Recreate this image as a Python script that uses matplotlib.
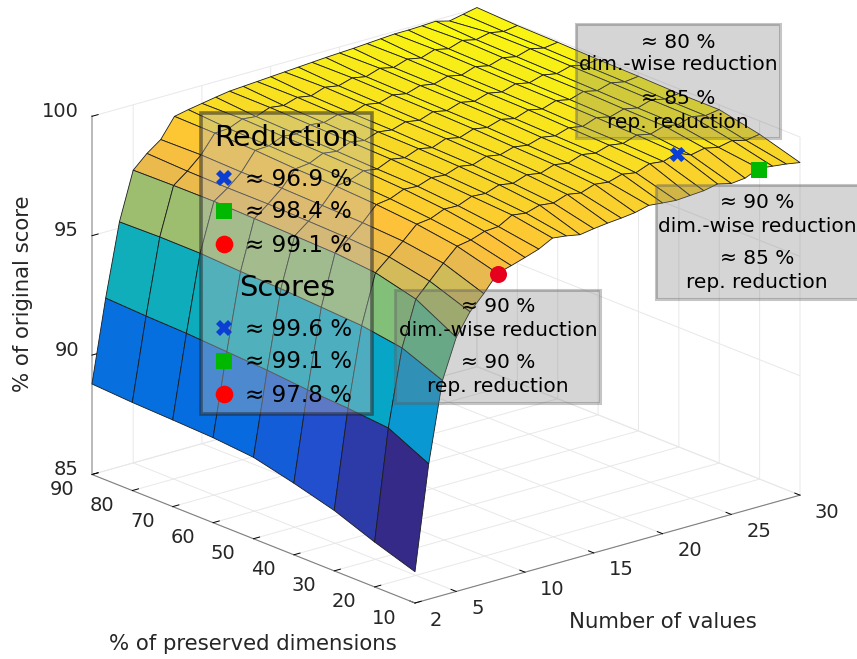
"""
Score surface over number of values and preserved dimensions
"""
import numpy as np
import matplotlib
matplotlib.use('Agg')
import matplotlib.pyplot as plt
from matplotlib.colors import LinearSegmentedColormap
from matplotlib.patches import Rectangle
from mpl_toolkits.mplot3d import proj3d

W, H = 857, 659

num_values = list(range(2, 31))
preserved_dims = [10, 20, 30, 40, 50, 60, 70, 80, 90]

# one row per number of values, columns are preserved_dims
score_rows = [
    [86.31, 86.88, 87.53, 88.00, 88.41, 88.56, 88.63, 88.69, 88.79],
    [90.67, 91.50, 91.65, 91.75, 91.90, 92.00, 92.10, 92.15, 92.23],
    [94.00, 94.69, 94.95, 95.05, 95.15, 95.20, 95.29, 95.30, 95.26],
    [95.64, 96.57, 97.00, 97.15, 97.20, 97.25, 97.30, 97.29, 97.26],
    [96.55, 97.16, 97.50, 97.60, 97.65, 97.70, 97.70, 97.73, 97.80],
    [97.15, 97.75, 98.00, 98.10, 98.15, 98.20, 98.20, 98.25, 98.22],
    [97.84, 98.30, 98.55, 98.70, 98.80, 98.85, 98.95, 99.00, 99.03],
    [98.00, 98.40, 98.62, 98.78, 98.88, 98.92, 98.98, 99.03, 99.15],
    [98.18, 98.60, 98.86, 99.02, 99.12, 99.18, 99.22, 99.27, 99.25],
    [98.37, 98.64, 98.84, 98.98, 99.03, 99.10, 99.15, 99.21, 99.35],
    [98.67, 98.96, 99.07, 99.18, 99.28, 99.33, 99.38, 99.43, 99.44],
    [98.60, 98.88, 99.03, 99.13, 99.18, 99.23, 99.31, 99.35, 99.48],
    [98.49, 99.05, 99.23, 99.33, 99.40, 99.43, 99.48, 99.53, 99.52],
    [98.58, 98.98, 99.13, 99.23, 99.28, 99.35, 99.38, 99.43, 99.56],
    [98.65, 99.18, 99.33, 99.43, 99.50, 99.53, 99.58, 99.63, 99.60],
    [98.70, 99.08, 99.23, 99.33, 99.38, 99.43, 99.48, 99.53, 99.64],
    [98.77, 99.28, 99.43, 99.50, 99.58, 99.63, 99.66, 99.70, 99.68],
    [98.91, 99.21, 99.33, 99.41, 99.48, 99.51, 99.55, 99.59, 99.72],
    [98.85, 99.38, 99.53, 99.58, 99.66, 99.70, 99.73, 99.78, 99.75],
    [98.80, 99.28, 99.43, 99.48, 99.53, 99.58, 99.63, 99.65, 99.78],
    [98.84, 99.50, 99.60, 99.66, 99.73, 99.76, 99.80, 99.84, 99.82],
    [98.88, 99.43, 99.51, 99.55, 99.61, 99.65, 99.68, 99.73, 99.86],
    [99.00, 99.62, 99.70, 99.76, 99.80, 99.83, 99.88, 99.92, 99.90],
    [98.86, 99.38, 99.58, 99.63, 99.68, 99.71, 99.75, 99.79, 99.90],
    [98.92, 99.50, 99.76, 99.80, 99.86, 99.88, 99.93, 99.98, 99.92],
    [99.17, 99.38, 99.65, 99.68, 99.73, 99.77, 99.81, 99.85, 99.95],
    [99.10, 99.50, 99.83, 99.86, 99.90, 99.93, 99.98, 99.98, 99.80],
    [99.03, 99.35, 99.71, 99.73, 99.78, 99.81, 99.85, 99.87, 99.92],
    [98.93, 99.44, 99.80, 99.80, 99.85, 99.88, 99.93, 99.96, 100.04],
]

# (number of values, preserved dimensions, score)
blue_point = (24, 20, 99.6)
green_point = (27, 10, 99.1)
red_point = (8, 10, 97.8)

x_ticks = [2, 5, 10, 15, 20, 25, 30]
y_ticks = [10, 20, 30, 40, 50, 60, 70, 80, 90]
z_ticks = [85, 90, 95, 100]

reduction_labels = ['≈ 96.9 %', '≈ 98.4 %', '≈ 99.1 %']
score_labels = ['≈ 99.6 %', '≈ 99.1 %', '≈ 97.8 %']
box_texts = [
    ['≈ 80 %', 'dim.-wise reduction', '≈ 85 %', 'rep. reduction'],
    ['≈ 90 %', 'dim.-wise reduction', '≈ 85 %', 'rep. reduction'],
    ['≈ 90 %', 'dim.-wise reduction', '≈ 90 %', 'rep. reduction'],
]

# MATLAB parula, (index out of 63, colour)
parula_anchors = [
    (0, (0.2081, 0.1663, 0.5292)), (6, (0.1253, 0.3242, 0.8303)), (10, (0.0165, 0.4266, 0.8786)),
    (15, (0.0779, 0.5040, 0.8384)), (20, (0.0343, 0.5966, 0.8199)), (25, (0.0267, 0.6642, 0.7607)),
    (29, (0.1133, 0.7015, 0.6859)), (33, (0.2586, 0.7317, 0.5954)), (38, (0.4871, 0.7491, 0.4840)),
    (42, (0.6473, 0.7456, 0.4188)), (46, (0.7858, 0.7356, 0.3633)), (50, (0.9139, 0.7258, 0.3063)),
    (54, (0.9990, 0.7653, 0.2164)), (59, (0.9697, 0.8481, 0.1475)), (63, (0.9763, 0.9831, 0.0538)),
]
parula = LinearSegmentedColormap.from_list('parula', [(i / 63, c) for i, c in parula_anchors])

BLUE, GREEN, RED = '#0b3fd4', '#00b800', '#ff0000'
TICK_COLOR = '#262626'
TICK_SIZE = 14
LABEL_SIZE = 15.3

Z = np.array(score_rows)
X, Y = np.meshgrid(num_values, preserved_dims, indexing='ij')
colors = parula((Z[:-1, :-1] - Z.min()) / (Z.max() - Z.min()))

fig = plt.figure(figsize=(W / 100, H / 100), dpi=100)
ax = fig.add_axes([0, 0, 1, 1], projection='3d', proj_type='ortho', computed_zorder=False)
ax.patch.set_alpha(0)
ax.view_init(elev=19.5, azim=-130)
ax.set_box_aspect((1, 1, 0.756))

ax.plot_surface(X, Y, Z, facecolors=colors, rstride=1, cstride=1, shade=False,
                edgecolor='#1c1c1c', linewidth=0.6, antialiased=True, zorder=1)
ax.scatter(*[[v] for v in blue_point], marker='X', s=120, c=BLUE, linewidths=0, depthshade=False, zorder=3)
ax.scatter(*[[v] for v in green_point], marker='s', s=128, c=GREEN, linewidths=0, depthshade=False, zorder=3)
ax.scatter(*[[v] for v in red_point], marker='o', s=150, c='#e6001e', linewidths=0, depthshade=False, zorder=3)

ax.set_xlim(2, 30, view_margin=0)
ax.set_ylim(10, 90, view_margin=0)
ax.set_zlim(85, 100, view_margin=0)
ax.set_xticks(x_ticks)
ax.set_yticks(y_ticks)
ax.set_zticks(z_ticks)
ax.set_xticklabels([])
ax.set_yticklabels([])
ax.set_zticklabels([])

for axis in (ax.xaxis, ax.yaxis, ax.zaxis):
    axis.set_pane_color((1, 1, 1, 0))
    axis.pane.set_edgecolor('none')
    axis.line.set_color('#808080')
    axis.line.set_linewidth(0.8)
    axis._axinfo['grid'].update(color='#e8e8e8', linewidth=0.7)
    axis._axinfo['tick'].update(inward_factor=0.0, outward_factor=0.2)
    axis._axinfo['tick']['linewidth'] = {True: 0.7, False: 0.5}
    axis._axinfo['tick']['color'] = '#808080'
ax.zaxis.line.set_color('#b0b0b0')
ax.zaxis.line.set_linewidth(1.2)


def corner_px(x, y, z):
    px, py, _ = proj3d.proj_transform(x, y, z, ax.get_proj())
    return ax.transData.transform((px, py))


# fit the square axes so the box corners land where they should
size = float(H)
left, bottom = 0.0, 0.0
for _ in range(3):
    ax.set_position([left / W, bottom / H, size / W, size / H])
    fig.canvas.draw()
    front = corner_px(2, 10, 85)
    right = corner_px(30, 10, 85)
    size *= 385 / (right[0] - front[0])
    ax.set_position([left / W, bottom / H, size / W, size / H])
    fig.canvas.draw()
    front = corner_px(2, 10, 85)
    left += 415 - front[0]
    bottom += (H - 603) - front[1]
ax.set_position([left / W, bottom / H, size / W, size / H])
fig.canvas.draw()

# overlay in pixel coordinates for boxes and text
over = fig.add_axes([0, 0, 1, 1])
over.set_xlim(0, W)
over.set_ylim(H, 0)
over.axis('off')

# tick labels follow the projected tick positions
for tick in x_ticks:
    tx, ty = corner_px(tick, 10, 85)
    over.text(tx + 15, H - ty + 17, str(tick), fontsize=TICK_SIZE, color=TICK_COLOR, ha='left', va='center')
for tick in y_ticks:
    tx, ty = corner_px(2, tick, 85)
    over.text(tx - 18, H - ty + 15, str(tick), fontsize=TICK_SIZE, color=TICK_COLOR, ha='right', va='center')
for tick in z_ticks:
    tx, ty = corner_px(2, 90, tick)
    over.text(tx - 13, H - ty - 5, str(tick), fontsize=TICK_SIZE, color=TICK_COLOR, ha='right', va='center')


def grey_box(x0, y0, x1, y1, face, edge, lw):
    over.add_patch(Rectangle((x0, y0), x1 - x0, y1 - y0, facecolor=face, edgecolor='none'))
    over.add_patch(Rectangle((x0, y0), x1 - x0, y1 - y0, fill=False, edgecolor=edge, linewidth=lw))


annot_face = (0.5, 0.5, 0.5, 0.33)
annot_edge = (0.35, 0.35, 0.35, 0.35)
grey_box(576, 24, 780, 138, annot_face, annot_edge, 2.2)
grey_box(656, 185, 870, 299, annot_face, annot_edge, 2.2)
grey_box(395, 290, 600, 403, annot_face, annot_edge, 2.2)
grey_box(201, 113, 372, 414, (0.72, 0.72, 0.72, 0.4), (0.15, 0.15, 0.15, 0.55), 2.6)

for lines, cx, rows in zip(box_texts, [678, 757, 498], [(42, 65, 99, 122), (202, 226, 259, 283), (307, 330, 363, 387)]):
    for line, row in zip(lines, rows):
        over.text(cx, row, line, fontsize=14.5, color='black', ha='center', va='center')

over.text(287, 138, 'Reduction', fontsize=20.8, ha='center', va='center')
over.text(287, 288, 'Scores', fontsize=20.8, ha='center', va='center')
for labels, rows in zip([reduction_labels, score_labels], [(179, 212, 245), (329, 362, 395)]):
    for label, row, marker, color, ms in zip(labels, rows, ['X', 's', 'o'], [BLUE, GREEN, RED], [11.5, 11.3, 12.7]):
        over.plot([224], [row - 1], marker=marker, color=color, markersize=ms, markeredgewidth=0, linestyle='none')
        over.text(245, row, label, fontsize=16.6, ha='left', va='center')

over.text(253, 644, '% of preserved dimensions', fontsize=LABEL_SIZE, color=TICK_COLOR, ha='center', va='center')
over.text(663, 622, 'Number of values', fontsize=LABEL_SIZE, color=TICK_COLOR, ha='center', va='center')
over.text(23, 294, '% of original score', fontsize=LABEL_SIZE, color=TICK_COLOR, rotation=90, ha='center', va='center')

fig.savefig('out.png', dpi=100)
